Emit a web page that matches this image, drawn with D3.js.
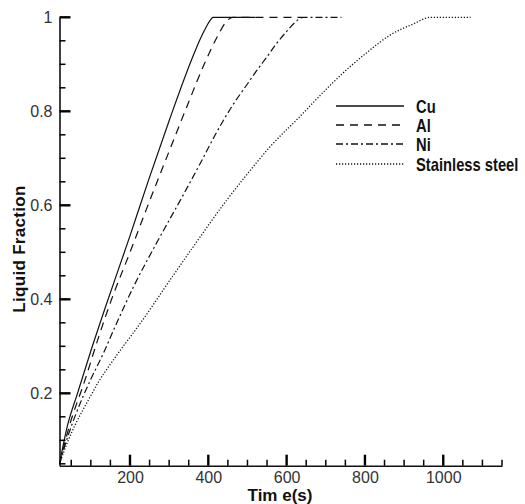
<!DOCTYPE html>
<html>
<head>
<meta charset="utf-8">
<script src="https://cdn.jsdelivr.net/npm/d3@7"></script>
<style>
  html, body { margin: 0; padding: 0; background: #fff; }
  svg { display: block; }
</style>
</head>
<body>
<svg id="chart" width="525" height="504"></svg>
<script>
// Melting time histories: liquid fraction versus time for four metals
const cuTime = [20, 40, 66, 100, 140, 200, 250, 300, 357, 380, 395, 405, 412, 450, 520];
const cuFrac = [0.05, 0.13, 0.2, 0.29, 0.39, 0.535, 0.66, 0.78, 0.909, 0.955, 0.98, 0.994, 1.0, 1.0, 1.0];

const alTime = [20, 45, 85, 120, 153, 200, 243, 300, 350, 392, 425, 445, 463, 530, 640];
const alFrac = [0.05, 0.13, 0.228, 0.32, 0.4, 0.5, 0.594, 0.715, 0.82, 0.905, 0.962, 0.99, 1.0, 1.0, 1.0];

const niTime = [20, 40, 60, 80, 100, 132, 160, 208, 268, 328, 380, 421, 460, 498, 524, 550, 575, 600, 620, 642, 700, 740];
const niFrac = [0.05, 0.105, 0.152, 0.193, 0.23, 0.285, 0.338, 0.425, 0.52, 0.61, 0.69, 0.755, 0.81, 0.856, 0.887, 0.916, 0.945, 0.97, 0.988, 1.0, 1.0, 1.0];

const ssTime = [20, 40, 60, 80, 100, 120, 150, 180, 208, 250, 285, 360, 447, 500, 557, 634, 700, 762, 805, 864, 924, 967, 1020, 1070];
const ssFrac = [0.05, 0.095, 0.133, 0.165, 0.195, 0.225, 0.262, 0.297, 0.328, 0.377, 0.42, 0.51, 0.611, 0.667, 0.724, 0.789, 0.846, 0.895, 0.925, 0.962, 0.986, 1.0, 1.0, 1.0];

const seriesNames = ["Cu", "Al", "Ni", "Stainless steel"];
const xMajorTicks = [200, 400, 600, 800, 1000];
const yMajorTicks = [0.2, 0.4, 0.6, 0.8, 1];

const dashes = {
  "Cu": null,
  "Al": "8,6",
  "Ni": "7,3,2,3",
  "Stainless steel": "1.2,1.8"
};

const series = [
  { name: "Cu", t: cuTime, f: cuFrac },
  { name: "Al", t: alTime, f: alFrac },
  { name: "Ni", t: niTime, f: niFrac },
  { name: "Stainless steel", t: ssTime, f: ssFrac }
];

const svg = d3.select("#chart");

const x = d3.scaleLinear().domain([20, 1150]).range([59.5, 502]);
const y = d3.scaleLinear().domain([0.046, 1]).range([465.7, 17.3]);

const axisColor = "#111";
const labelFont = "'Liberation Sans', Arial, sans-serif";

// minor ticks every 50 s and every 0.05
const xMinor = d3.range(50, 1151, 50).filter(v => !xMajorTicks.includes(v));
const yMinor = d3.range(1, 20).map(i => +(i * 0.05).toFixed(2))
  .filter(v => !yMajorTicks.some(m => Math.abs(m - v) < 1e-6));

const x0 = x.range()[0], y0 = y.range()[0];

// axis lines and tick labels
const gx = svg.append("g").attr("transform", `translate(0,${y0})`)
  .call(d3.axisBottom(x).tickValues(xMajorTicks).tickSize(0).tickPadding(5).tickFormat(d3.format("d")));
const gy = svg.append("g").attr("transform", `translate(${x0},0)`)
  .call(d3.axisLeft(y).tickValues(yMajorTicks).tickSize(0).tickPadding(7)
    .tickFormat(d => d === 1 ? "1" : d3.format(".1f")(d)));

svg.selectAll(".domain").attr("stroke", axisColor).attr("stroke-width", 1.6);
[gx, gy].forEach(g => g.selectAll(".tick text")
  .attr("fill", "#333")
  .style("font-family", labelFont)
  .style("font-size", "16px"));
gx.selectAll(".tick text").attr("dy", "0.78em");

// curves
const line = d3.line()
  .x(d => x(d[0]))
  .y(d => y(d[1]))
  .curve(d3.curveMonotoneX);

svg.append("g").selectAll("path")
  .data(series)
  .join("path")
  .attr("d", s => line(s.t.map((t, i) => [t, s.f[i]])))
  .attr("fill", "none")
  .attr("stroke", "#111")
  .attr("stroke-width", s => s.name === "Stainless steel" ? 1.3 : 1.2)
  .attr("stroke-dasharray", s => dashes[s.name]);

// legend
const legendRows = [106, 125, 144, 164];
const legend = svg.append("g");
seriesNames.forEach((name, i) => {
  legend.append("line")
    .attr("x1", 336).attr("x2", 404)
    .attr("y1", legendRows[i]).attr("y2", legendRows[i])
    .attr("stroke", "#111")
    .attr("stroke-width", 1.3)
    .attr("stroke-dasharray", dashes[name]);
  legend.append("text")
    .attr("transform", `translate(416,${legendRows[i] + 6.5}) scale(0.82,1)`)
    .style("font-family", labelFont)
    .style("font-weight", "bold")
    .style("font-size", "18px")
    .attr("fill", "#111")
    .text(name);
});

// axis titles
svg.append("text")
  .attr("x", 280).attr("y", 501)
  .attr("text-anchor", "middle")
  .style("font-family", labelFont)
  .style("font-weight", "bold")
  .style("font-size", "17px")
  .attr("fill", "#111")
  .text("Tim e(s)");

svg.append("text")
  .attr("transform", "translate(25,249) rotate(-90)")
  .attr("text-anchor", "middle")
  .style("font-family", labelFont)
  .style("font-weight", "bold")
  .style("font-size", "17px")
  .style("letter-spacing", "0.3px")
  .attr("fill", "#111")
  .text("Liquid Fraction");

// inward-pointing tick marks along both axes, drawn on top through the scales
const marks = svg.append("g");
const xMarks = [
  ...xMinor.map(v => ({ v, len: 6, w: 1.5 })),
  ...xMajorTicks.map(v => ({ v, len: 11, w: 2.4 }))
];
const yMarks = [
  ...yMinor.map(v => ({ v, len: 6, w: 1.5 })),
  ...yMajorTicks.map(v => ({ v, len: 11, w: 2.4 }))
];
marks.selectAll("line.xmark")
  .data(xMarks)
  .join("line")
  .attr("class", "xmark")
  .attr("x1", d => x(d.v)).attr("x2", d => x(d.v))
  .attr("y1", y0).attr("y2", d => y0 - d.len)
  .attr("stroke", "#000")
  .attr("stroke-width", d => d.w);
marks.selectAll("line.ymark")
  .data(yMarks)
  .join("line")
  .attr("class", "ymark")
  .attr("x1", x0).attr("x2", d => x0 + d.len)
  .attr("y1", d => y(d.v)).attr("y2", d => y(d.v))
  .attr("stroke", "#000")
  .attr("stroke-width", d => d.w);
</script>
</body>
</html>
